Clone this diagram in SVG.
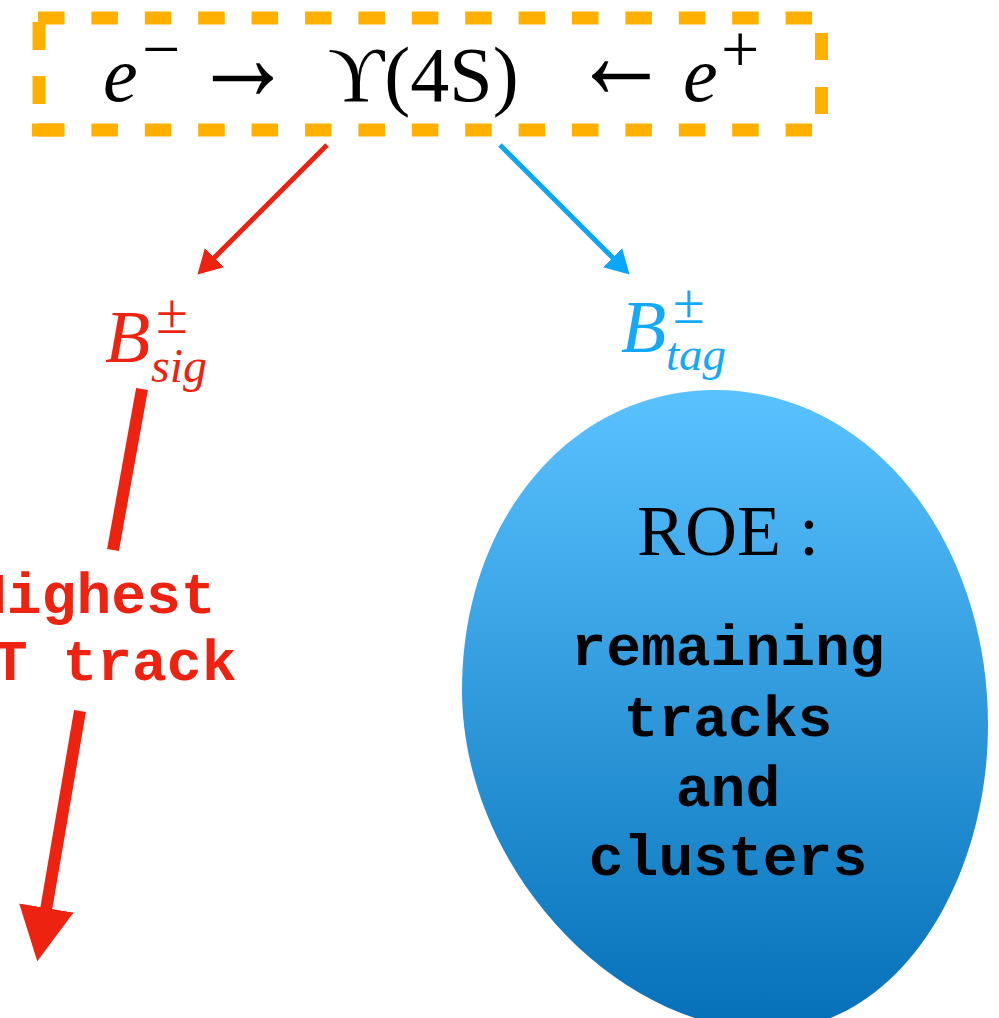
<svg xmlns="http://www.w3.org/2000/svg" width="999" height="1018" viewBox="0 0 999 1018">
<style>
.box{fill:none;stroke:#FFB000;stroke-width:13}
.tm{font-family:"Liberation Serif","Times New Roman",serif;fill:#000}
.it{font-style:italic}
.red{fill:#EE2210}
.blue{fill:#14A8F8}
.mono{font-family:"Liberation Mono","Courier New",monospace;font-weight:bold;font-size:58px}
</style>
<defs>
<linearGradient id="g" x1="0" y1="0" x2="0" y2="1">
<stop offset="0" stop-color="#5AC2FF"/>
<stop offset="1" stop-color="#0570B8"/>
</linearGradient>
<marker id="ah-red" markerUnits="userSpaceOnUse" markerWidth="30" markerHeight="30" refX="2" refY="13.5" orient="auto"><path d="M0,0 L24,13.5 L0,27 Z" fill="#EE2210"/></marker>
<marker id="ah-blue" markerUnits="userSpaceOnUse" markerWidth="30" markerHeight="30" refX="2" refY="13.5" orient="auto"><path d="M0,0 L24,13.5 L0,27 Z" fill="#0AA6F8"/></marker>
<marker id="ah-big" markerUnits="userSpaceOnUse" markerWidth="60" markerHeight="60" refX="2" refY="27.5" orient="auto"><path d="M0,0 L54,27.5 L0,55 Z" fill="#EE2210"/></marker>
</defs>

<g id="source">
<path class="box" d="M38,18 H823" stroke-dasharray="26.5 26.9"/>
<path class="box" d="M38,130 H823" stroke-dasharray="26.5 26.9"/>
<path class="box" d="M32,130 H64"/>
<path class="box" d="M39,22 V130" stroke-dasharray="28 26"/>
<path class="box" d="M821.5,33 V130" stroke-dasharray="27 27"/>
<text class="tm it" x="103" y="101" font-size="78">e</text>
<text class="tm" x="142" y="72" font-size="68">−</text>
<text class="tm" transform="translate(192,100) scale(0.78,1)" font-size="130">→</text>
<text class="tm" x="328" y="101" font-size="78">ϒ(4S)</text>
<text class="tm" transform="translate(572,98) scale(0.75,1)" font-size="130">←</text>
<text class="tm it" x="683" y="101" font-size="78">e</text>
<text class="tm" x="721" y="72" font-size="68">+</text>
</g>

<g id="connectors">
<line x1="327" y1="145" x2="213" y2="259" stroke="#EE2210" stroke-width="5" marker-end="url(#ah-red)"/>
<line x1="500" y1="145" x2="614" y2="259" stroke="#0AA6F8" stroke-width="5" marker-end="url(#ah-blue)"/>
<line x1="142" y1="389" x2="113" y2="550" stroke="#EE2210" stroke-width="12"/>
<line x1="80" y1="711" x2="46" y2="910" stroke="#EE2210" stroke-width="12" marker-end="url(#ah-big)"/>
</g>

<g id="bsig">
<text class="tm it red" x="105" y="362" font-size="74">B</text>
<text class="tm red" x="156" y="333" font-size="58">±</text>
<text class="tm it red" x="151" y="382" font-size="48">sig</text>
</g>

<g id="btag">
<text class="tm it blue" x="621" y="352" font-size="74">B</text>
<text class="tm blue" x="673" y="323" font-size="58">±</text>
<text class="tm it blue" x="666" y="370" font-size="47">tag</text>
</g>

<g id="highest">
<text class="mono red" x="-28" y="613">Highest</text>
<text class="mono red" x="-42" y="680">pT track</text>
</g>

<g id="roe">
<path d="M712,390 C870,388 988,540 988,725 C988,880 900,1025 775,1030 C620,1035 462,870 462,690 C462,520 570,392 712,390 Z" fill="url(#g)"/>
<text class="tm" x="728" y="555" font-size="72" text-anchor="middle">ROE :</text>
<g class="mono" text-anchor="middle" fill="#000">
<text x="728" y="665">remaining</text>
<text x="728" y="736">tracks</text>
<text x="728" y="806">and</text>
<text x="728" y="875">clusters</text>
</g>
</g>
</svg>
